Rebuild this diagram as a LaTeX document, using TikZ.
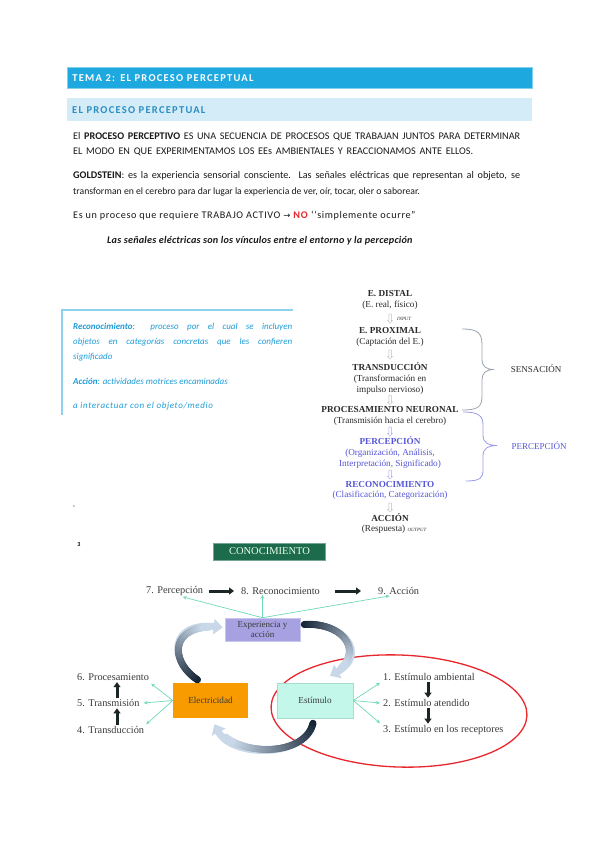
\documentclass[tikz,border=0pt]{standalone}
\usepackage{fontspec}
\setmainfont{Carlito}
\newfontfamily\serif{Liberation Serif}
\newfontfamily\djv{DejaVu Sans}
\usetikzlibrary{arrows.meta,shapes.arrows,shapes.geometric,decorations.markings,calc}
\definecolor{hdrblue}{HTML}{1EA8E0}
\definecolor{hdrlight}{HTML}{D4ECF8}
\definecolor{hdrtext}{HTML}{2A8EC2}
\definecolor{boxblue}{HTML}{1E9CD8}
\definecolor{boxedge}{HTML}{8FD0EE}
\definecolor{percblue}{HTML}{5555D8}
\definecolor{greytext}{HTML}{2A2A2A}
\definecolor{bracegrey}{HTML}{9AA4B0}
\definecolor{bracepurple}{HTML}{9A9AE8}
\definecolor{arrowgrey}{HTML}{BDBDBD}
\definecolor{arrowpurple}{HTML}{A8A8EE}
\definecolor{conogreen}{HTML}{1B6B4C}
\definecolor{exppurple}{HTML}{A7A1E2}
\definecolor{elecorange}{HTML}{F79B00}
\definecolor{estmint}{HTML}{C3F7E9}
\definecolor{estedge}{HTML}{A8DCCF}
\definecolor{tealline}{HTML}{6FDBB5}
\definecolor{ellred}{HTML}{E8262B}
\definecolor{arcdark}{HTML}{0F1F2F}
\definecolor{arclight}{HTML}{C8D8E8}
\definecolor{blackarrow}{HTML}{1C2626}
\definecolor{bodytext}{HTML}{1A1A1A}
\definecolor{diagtext}{HTML}{3A3A3A}
\tikzset{
  bodyline/.style={anchor=west, inner sep=0pt, text=bodytext, font=\fontsize{10.2}{12}\selectfont},
  boxtext/.style={anchor=west, inner sep=0pt, text=boxblue, font=\itshape\fontsize{9}{11}\selectfont},
  flow/.style={inner sep=0pt, text=greytext, font=\serif\fontsize{9.2}{10.5}\selectfont},
  flowp/.style={flow, text=percblue},
  hollow/.style={single arrow, shape border rotate=270, draw=arrowgrey, fill=white, line width=0.5pt,
    minimum height=9pt, inner sep=1pt, single arrow head extend=1.3pt},
  hollowp/.style={hollow, draw=arrowpurple},
  diag/.style={inner sep=0pt, text=diagtext, font=\serif\fontsize{10.3}{11.5}\selectfont},
  blackarr/.style={blackarrow, line width=3pt, -{Triangle[length=5pt,width=7pt]}},
  tealarr/.style={tealline, line width=0.7pt, -{Stealth[length=4pt,width=3.5pt]}},
  bigarc/.style={line width=7pt, arclight, -{Triangle[length=9pt,width=15pt]},
    decoration={markings, mark=between positions 0 and 0.86 step 0.008 with {%
      \pgfmathtruncatemacro\pc{max(0,100-100*\pgfkeysvalueof{/pgf/decoration/mark info/sequence number}/100)}%
      \fill[arcdark!\pc!arclight] (0,0) circle (3.5pt);}},
    postaction=decorate},
}
\begin{document}
\begin{tikzpicture}[x=1pt,y=-1pt]
\useasboundingbox (0,0) rectangle (599,848);
\fill[white] (0,0) rectangle (599,848);

% header bars
\node[anchor=north west, fill=hdrblue, draw=hdrblue!55!white, line width=0.8pt, minimum height=21pt,
  text width=455pt, inner xsep=5pt, align=left, text=white,
  font=\bfseries\fontsize{10.5}{12}\selectfont\addfontfeatures{LetterSpace=12}] (bar1) at (67,67) {TEMA 2: EL PROCESO PERCEPTUAL};
\node[anchor=north west, fill=hdrlight, minimum height=23pt,
  text width=455pt, inner xsep=5pt, align=left, text=hdrtext,
  font=\bfseries\fontsize{10.5}{12}\selectfont\addfontfeatures{LetterSpace=12}] (bar2) at (67,98) {EL PROCESO PERCEPTUAL};

% body text
\node[bodyline] (l1) at (73,137) {\makebox[447pt][s]{El \textbf{PROCESO PERCEPTIVO} ES UNA SECUENCIA DE PROCESOS QUE TRABAJAN JUNTOS PARA DETERMINAR}};
\node[bodyline] (l2) at (73,152) {\makebox[400pt][s]{EL MODO EN QUE EXPERIMENTAMOS LOS EEs AMBIENTALES Y REACCIONAMOS ANTE ELLOS.}};
\node[bodyline] (l3) at (73,176) {\makebox[447pt][s]{\textbf{GOLDSTEIN}: es la experiencia sensorial consciente. Las señales eléctricas que representan al objeto, se}};
\node[bodyline, font=\fontsize{9.7}{12}\selectfont] (l4) at (73,192) {transforman en el cerebro para dar lugar la experiencia de ver, oír, tocar, oler o saborear.};
\node[bodyline, font=\fontsize{10.2}{12}\selectfont\addfontfeatures{LetterSpace=6}] (l5) at (73,216) {Es un proceso que requiere TRABAJO ACTIVO {\djv\fontsize{8.5}{9}\selectfont →} \textcolor{ellred}{\textbf{NO}} ‘‘simplemente ocurre”};
\node[bodyline, font=\fontsize{10.2}{12}\selectfont\addfontfeatures{LetterSpace=2}] (l6) at (107,241) {\textbf{\textit{Las señales eléctricas son los vínculos entre el entorno y la percepción}}};

% left box
\draw[boxedge, line width=1.2pt] (62,415) -- (62,310) -- (293,310);
\node[boxtext] (r1) at (73,327) {\makebox[219pt][s]{\textbf{Reconocimiento}: proceso por el cual se incluyen}};
\node[boxtext] (r2) at (73,342) {\makebox[219pt][s]{objetos en categorías concretas que les confieren}};
\node[boxtext] (r3) at (73,357) {significado};
\node[boxtext] (r4) at (73,381) {\textbf{Acción}: actividades motrices encaminadas};
\node[boxtext, font=\itshape\fontsize{9}{11}\selectfont\addfontfeatures{LetterSpace=7}] (r5) at (73,406) {a interactuar con el objeto/medio};

% right flowchart
\node[flow] (fd1) at (390,294) {\textbf{E. DISTAL}};
\node[flow] (fd2) at (390,305) {(E. real, físico)};
\node[hollow] (a1) at (390,318) {};
\node[flow, anchor=west, font=\serif\itshape\fontsize{4.8}{5}\selectfont] (fin) at (397,318.5) {INPUT};
\node[flow] (fp1) at (390,331) {\textbf{E. PROXIMAL}};
\node[flow] (fp2) at (390,342) {(Captación del E.)};
\node[hollow] (a2) at (390,354) {};
\node[flow] (ft1) at (390,367) {\textbf{TRANSDUCCIÓN}};
\node[flow] (ft2) at (390,379) {(Transformación en};
\node[flow] (ft3) at (390,390) {impulso nervioso)};
\node[hollow] (a3) at (390,399.5) {};
\node[flow] (fn1) at (390,409) {\textbf{PROCESAMIENTO NEURONAL}};
\node[flow] (fn2) at (390,421) {(Transmisión hacia el cerebro)};
\node[hollowp] (a4) at (390,431) {};
\node[flowp] (fc1) at (390,441) {\textbf{PERCEPCIÓN}};
\node[flowp] (fc2) at (390,453) {(Organización, Análisis,};
\node[flowp] (fc3) at (390,464) {Interpretación, Significado)};
\node[hollowp] (a5) at (390,474) {};
\node[flowp] (fr1) at (390,484) {\textbf{RECONOCIMIENTO}};
\node[flowp] (fr2) at (390,495) {(Clasificación, Categorización)};
\node[hollow] (a6) at (390,507) {};
\node[flow] (fa1) at (390,518) {\textbf{ACCIÓN}};
\node[flow] (fa2) at (394,529) {(Respuesta) {\itshape\fontsize{4.8}{5}\selectfont OUTPUT}};

% braces
\draw[bracegrey, line width=0.8pt] (462,329) .. controls (478,329) and (482,333) .. (482,345) -- (482,360)
  .. controls (482,366) and (486,369.5) .. (494,369.5) .. controls (486,369.5) and (482,373) .. (482,380) -- (482,396)
  .. controls (482,407) and (478,410) .. (462,410);
\node[flow, font=\serif\fontsize{9}{10}\selectfont] (sens) at (536,369) {SENSACIÓN};
\draw[bracepurple, line width=0.8pt] (463,412) .. controls (479,412) and (483,416) .. (483,425) -- (483,436)
  .. controls (483,442) and (488,445.5) .. (497,445.5) .. controls (488,445.5) and (483,449) .. (483,455) -- (483,470)
  .. controls (483,478) and (480,481) .. (466,481);
\node[flowp, font=\serif\fontsize{9}{10}\selectfont] (perc) at (539,446) {PERCEPCIÓN};

% small marks
\node[inner sep=0pt, font=\fontsize{7}{7}\selectfont] (m1) at (74,507) {-};
\node[inner sep=0pt, font=\bfseries\fontsize{6}{6}\selectfont] (m3) at (79,545) {3};

% bottom diagram
\node[fill=conogreen, draw=conogreen!60!white, line width=0.6pt, minimum width=112pt, minimum height=17pt, inner sep=0pt,
  text=white!92!green, font=\serif\fontsize{10.5}{12}\selectfont] (cono) at (269.5,551.5) {CONOCIMIENTO};

\node[diag, anchor=west] (p7) at (146,591) {7. Percepción};
\node[diag, anchor=west] (p8) at (241,591) {8. Reconocimiento};
\node[diag, anchor=west] (p9) at (378,591) {9. Acción};
\draw[blackarr, shorten <=6pt, shorten >=7pt] (p7.east) -- (p8.west);
\draw[blackarr, shorten <=15pt, shorten >=17pt] (p8.east) -- (p9.west);

% red ellipse
\node[draw=ellred, line width=1.3pt, ellipse, minimum width=256pt, minimum height=112pt, inner sep=0pt, rotate=-2] (ring) at (399,711) {};

\node[fill=exppurple, draw=exppurple!60!white, line width=0.6pt, minimum width=75pt, minimum height=23pt, inner sep=0pt,
  align=center, text=diagtext, font=\serif\fontsize{9}{10}\selectfont] (exp) at (262.5,629.5) {Experiencia y\\acción};
\node[fill=elecorange, minimum width=75pt, minimum height=35pt, inner sep=0pt,
  text=diagtext, font=\serif\fontsize{9.2}{10}\selectfont] (elec) at (210.5,700.5) {Electricidad};
\node[fill=estmint, draw=estedge, line width=0.5pt, minimum width=76pt, minimum height=35pt, inner sep=0pt,
  text=diagtext, font=\serif\fontsize{9.2}{10}\selectfont] (est) at (315,700.5) {Estímulo};

\draw[tealarr] (exp.north) -- ($(p7.south)+(8,1)$);
\draw[tealarr] (exp.north) -- (exp.north |- p8.south);
\draw[tealarr] (exp.north) -- ($(p9.south)+(-9,1)$);

\node[diag, anchor=west] (q6) at (77,677) {6. Procesamiento};
\node[diag, anchor=west] (q5) at (77,703) {5. Transmisión};
\node[diag, anchor=west] (q4) at (77,730) {4. Transducción};
\coordinate (xl) at (117,0);
\draw[blackarr, shorten <=1pt, shorten >=1.5pt] (q5.north -| xl) -- (q6.south -| xl);
\draw[blackarr, shorten <=1pt, shorten >=1.5pt] (q4.north -| xl) -- (q5.south -| xl);
\draw[tealarr] (elec.west) -- ($(q6.south east)+(2,3)$);
\draw[tealarr] (elec.west) -- ($(q5.east)+(4,0)$);
\draw[tealarr] (elec.west) -- ($(q4.north east)+(2,-2)$);

\node[diag, anchor=west] (s1) at (383,677) {1. Estímulo ambiental};
\node[diag, anchor=west] (s2) at (383,703) {2. Estímulo atendido};
\node[diag, anchor=west] (s3) at (383,730) {3. Estímulo en los receptores};
\coordinate (xr) at (428,0);
\draw[blackarr, shorten <=1pt, shorten >=1.5pt] (s1.south -| xr) -- (s2.north -| xr);
\draw[blackarr, shorten <=1pt, shorten >=1.5pt] (s2.south -| xr) -- (s3.north -| xr);
\draw[tealarr] (est.east) -- ($(s1.south west)+(-3,2)$);
\draw[tealarr] (est.east) -- ($(s2.west)+(-3,0)$);
\draw[tealarr] (est.east) -- ($(s3.north west)+(-3,-2)$);

% curved arrows
\draw[bigarc] ($(elec.north)+(-13,-3)$) .. controls (168,660) and (170,622) .. ($(exp.west)+(-2,-2)$);
\draw[bigarc] ($(exp.east)+(4,-5)$) .. controls (345,622) and (368,655) .. ($(est.north)+(15,-7)$);
\draw[bigarc] ($(est.south)+(-2,5)$) .. controls (305,758) and (232,758) .. ($(elec.south)+(4,6)$);
\end{tikzpicture}
\end{document}
